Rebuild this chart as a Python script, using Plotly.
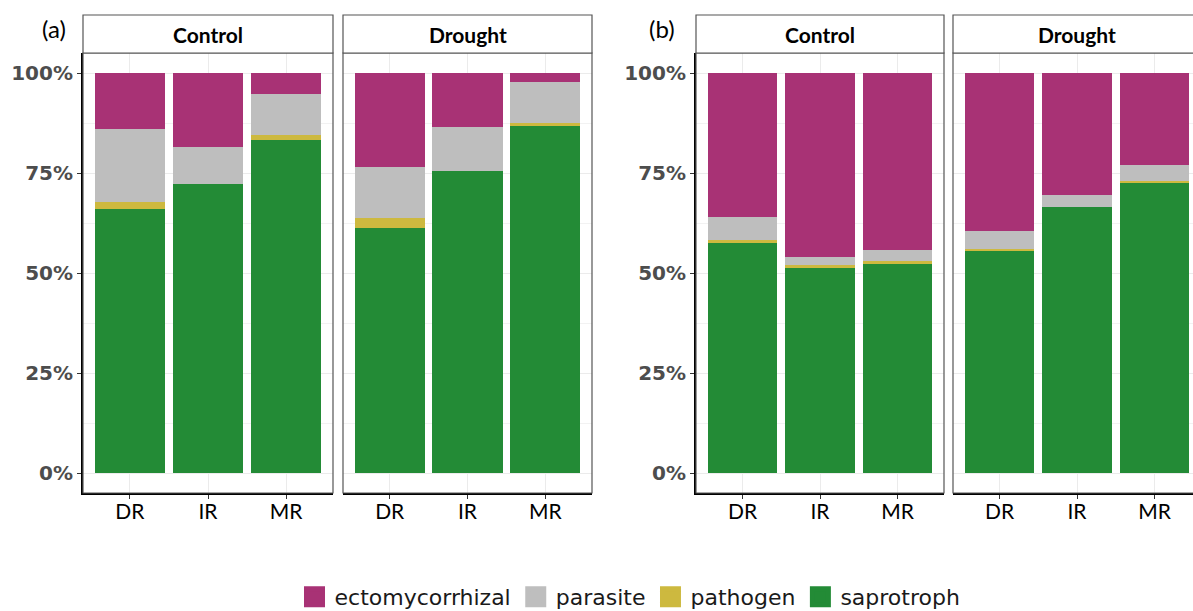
import plotly.graph_objects as go

# ---------------- data (percent of reads) ----------------
samples = ["DR", "IR", "MR"]
guilds = ["ectomycorrhizal", "parasite", "pathogen", "saprotroph"]
guild_colors = ["#A83275", "#BEBEBE", "#CDB93F", "#238B36"]

a_control_sapro = [66.0, 72.3, 83.3]
a_control_patho = [1.8, 0.0, 1.3]
a_control_para = [18.1, 9.2, 10.1]
a_control_ecto = [14.1, 18.5, 5.3]

a_drought_sapro = [61.25, 75.5, 86.8]
a_drought_patho = [2.5, 0.0, 0.7]
a_drought_para = [12.65, 11.0, 10.3]
a_drought_ecto = [23.6, 13.5, 2.2]

b_control_sapro = [57.6, 51.3, 52.3]
b_control_patho = [0.6, 0.7, 0.8]
b_control_para = [5.9, 2.1, 2.6]
b_control_ecto = [35.9, 45.9, 44.3]

b_drought_sapro = [55.4, 66.6, 72.7]
b_drought_patho = [0.6, 0.0, 0.4]
b_drought_para = [4.4, 2.8, 3.8]
b_drought_ecto = [39.6, 30.6, 23.1]

y_ticks = [0, 25, 50, 75, 100]
y_tick_labels = ["0%", "25%", "50%", "75%", "100%"]
panel_labels = ["(a)", "(b)"]
strip_labels = ["Control", "Drought", "Control", "Drought"]

panels = [
    (a_control_ecto, a_control_para, a_control_patho, a_control_sapro),
    (a_drought_ecto, a_drought_para, a_drought_patho, a_drought_sapro),
    (b_control_ecto, b_control_para, b_control_patho, b_control_sapro),
    (b_drought_ecto, b_drought_para, b_drought_patho, b_drought_sapro),
]

# ---------------- layout geometry (pixels) ----------------
W, H = 1193, 611
px_x = [(83, 333), (343, 592), (696, 944), (953, 1201)]
plot_top, plot_bot = 53, 493
strip_top = 15


def fx(p):
    return p / W


def fy(p):
    return 1 - p / H


fig = go.Figure()

for i, vals in enumerate(panels):
    xa = "x" if i == 0 else f"x{i+1}"
    ya = "y" if i == 0 else f"y{i+1}"
    # stack from bottom: saprotroph, pathogen, parasite, ectomycorrhizal
    for g in [3, 2, 1, 0]:
        fig.add_trace(go.Bar(
            x=samples, y=vals[g], name=guilds[g],
            marker=dict(color=guild_colors[g], line=dict(width=0)),
            width=0.9, xaxis=xa, yaxis=ya, showlegend=False,
            hovertemplate="%{x}: %{y:.1f}%<extra>" + guilds[g] + "</extra>",
        ))

# legend-only entries (large squares)
for g in range(4):
    fig.add_trace(go.Scatter(
        x=[None], y=[None], mode="markers", name=guilds[g],
        marker=dict(symbol="square", size=16, color=guild_colors[g],
                    line=dict(color=guild_colors[g], width=5)),
        xaxis="x", yaxis="y", showlegend=True,
    ))

layout = dict(
    width=W, height=H,
    margin=dict(l=0, r=0, t=0, b=0, autoexpand=False),
    paper_bgcolor="white", plot_bgcolor="white",
    barmode="stack",
    showlegend=True,
    legend=dict(
        orientation="h", x=fx(630), xanchor="center", y=fy(597), yanchor="middle",
        font=dict(family="DejaVu Sans", size=22, color="#1a1a1a"),
        itemclick=False, itemdoubleclick=False, traceorder="normal",
        bgcolor="rgba(0,0,0,0)", itemwidth=30,
    ),
)

shapes = []
annotations = []
for i in range(4):
    x0, x1 = px_x[i]
    xkey = "xaxis" if i == 0 else f"xaxis{i+1}"
    ykey = "yaxis" if i == 0 else f"yaxis{i+1}"
    dom_x1 = min(x1, W)
    unit = (x1 - x0) / 3.2
    rng_hi = -0.6 + (dom_x1 - x0) / unit
    first = i in (0, 2)
    layout[xkey] = dict(
        domain=[fx(x0), fx(dom_x1)],
        anchor="y" if i == 0 else f"y{i+1}",
        range=[-0.6, rng_hi],
        type="category",
        showgrid=True, gridcolor="#EBEBEB", gridwidth=1,
        showline=True, linecolor="black", linewidth=2, mirror=False,
        ticks="outside", ticklen=4, tickcolor="#333333", tickwidth=1,
        ticklabelstandoff=-5,
        tickfont=dict(family="Lato", size=21, color="black"),
        zeroline=False, fixedrange=True,
    )
    layout[ykey] = dict(
        domain=[fy(plot_bot), fy(plot_top)],
        anchor="x" if i == 0 else f"x{i+1}",
        range=[-5, 105],
        tickvals=y_ticks, ticktext=y_tick_labels,
        showticklabels=first,
        ticks="outside" if first else "", ticklen=4, tickcolor="#333333", tickwidth=1,
        tickfont=dict(family="DejaVu Sans", size=20, color="#4D4D4D",
                      weight="bold"),
        showgrid=True, gridcolor="#EBEBEB", gridwidth=1,
        minor=dict(tickvals=[12.5, 37.5, 62.5, 87.5], showgrid=True,
                   gridcolor="#F2F2F2", gridwidth=0.6),
        showline=first, linecolor="black", linewidth=2,
        zeroline=False, fixedrange=True,
    )
    # panel border
    shapes.append(dict(type="rect", xref="paper", yref="paper",
                       x0=fx(x0), x1=fx(x1), y0=fy(plot_bot), y1=fy(plot_top),
                       line=dict(color="#555555", width=1.2), layer="above"))
    # strip box
    shapes.append(dict(type="rect", xref="paper", yref="paper",
                       x0=fx(x0), x1=fx(x1), y0=fy(plot_top), y1=fy(strip_top),
                       fillcolor="white",
                       line=dict(color="#555555", width=1.2), layer="above"))
    annotations.append(dict(
        text=strip_labels[i], xref="paper", yref="paper",
        x=fx((x0 + x1) / 2), y=fy((strip_top + plot_top) / 2),
        xanchor="center", yanchor="middle", showarrow=False,
        font=dict(family="Lato", size=21, color="black", weight="bold"),
    ))

for lbl, xc in zip(panel_labels, [54, 662]):
    annotations.append(dict(
        text=lbl, xref="paper", yref="paper", x=fx(xc), y=fy(29),
        xanchor="center", yanchor="middle", showarrow=False,
        font=dict(family="Lato", size=24, color="black"),
    ))

layout["shapes"] = shapes
layout["annotations"] = annotations
fig.update_layout(**layout)

fig.write_html("out.html", config=dict(displayModeBar=False))
